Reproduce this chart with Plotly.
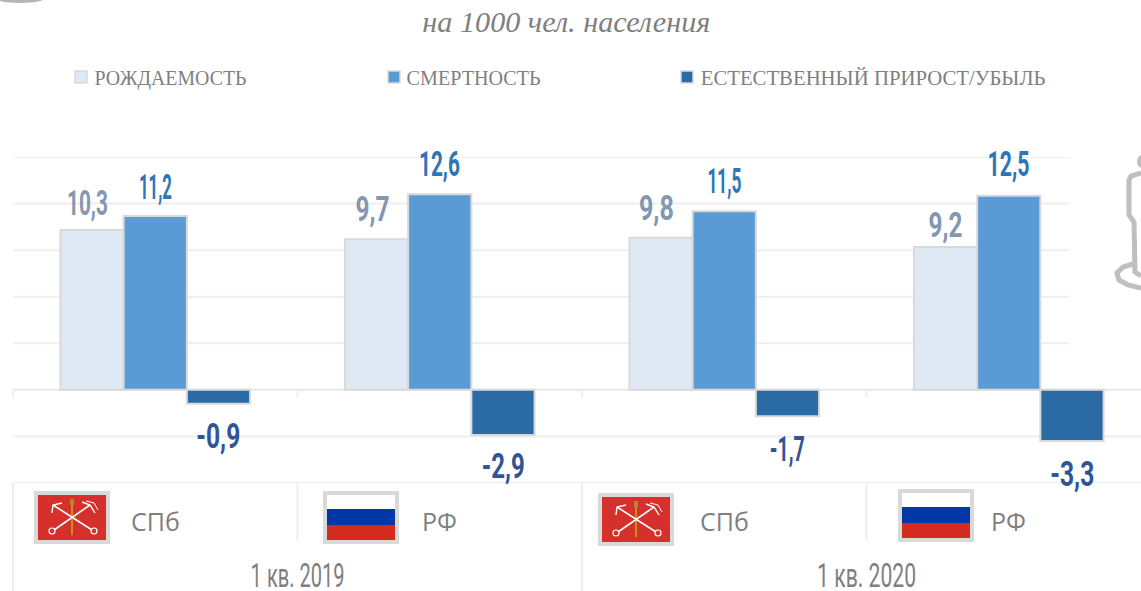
import json
import plotly.graph_objects as go

W, H = 1141, 591
places = ["СПб 2019", "РФ 2019", "СПб 2020", "РФ 2020"]
place_labels = ["СПб", "РФ", "СПб", "РФ"]
period_labels = ["1 кв. 2019", "1 кв. 2020"]
birth = [10.3, 9.7, 9.8, 9.2]
death = [11.2, 12.6, 11.5, 12.5]
natural = [-0.9, -2.9, -1.7, -3.3]
birth_text = ["10,3", "9,7", "9,8", "9,2"]
death_text = ["11,2", "12,6", "11,5", "12,5"]
natural_text = ["-0,9", "-2,9", "-1,7", "-3,3"]
grid_values = [15, 12, 9, 6, 3, -3, -6]
legend_names = ["РОЖДАЕМОСТЬ", "СМЕРТНОСТЬ", "ЕСТЕСТВЕННЫЙ ПРИРОСТ/УБЫЛЬ"]
subtitle = "на 1000 чел. населения"

C_BIRTH, C_DEATH, C_NAT = "#DEE9F5", "#5B9BD5", "#2A6BA6"
EDGE = "#D9D9D9"
GRID = "#EEEEEE"
NUM = "Roboto"
PLOT_L, PLOT_T, PLOT_R, PLOT_B = 13, 157, 1141, 483
LINE_END = 1069
STEP = 284.5

# rendered width of condensed / stretched texts
fit_widths = {
    "10,3": 41, "9,7": 34, "9,8": 35, "9,2": 34,
    "11,2": 33, "12,6": 41, "11,5": 34, "12,5": 42,
    "-0,9": 44, "-2,9": 43, "-1,7": 35, "-3,3": 44,
    "1 кв. 2019": 94, "1 кв. 2020": 99,
    legend_names[0]: 152, legend_names[1]: 134, legend_names[2]: 345,
    subtitle: 288,
}


def px(x):
    return (x - PLOT_L) / (PLOT_R - PLOT_L)


def py(y):
    return (PLOT_B - y) / (PLOT_B - PLOT_T)


fig = go.Figure()
for vals, color, name in zip((birth, death, natural), (C_BIRTH, C_DEATH, C_NAT), legend_names):
    fig.add_bar(x=places, y=vals, name=name, marker=dict(color=color, line=dict(color=EDGE, width=2)),
                showlegend=False, hoverinfo="skip")

shapes = []
annos = []


def line(x0, y0, x1, y1, color=GRID, w=2):
    shapes.append(dict(type="line", xref="paper", yref="paper", x0=px(x0), x1=px(x1), y0=py(y0), y1=py(y1),
                       line=dict(color=color, width=w), layer="below"))


for g in grid_values:
    shapes.append(dict(type="line", xref="paper", yref="y", x0=0, x1=px(LINE_END) if g > 0 else 1, y0=g, y1=g,
                       line=dict(color=GRID, width=2), layer="below"))
shapes.append(dict(type="line", xref="paper", yref="y", x0=0, x1=1, y0=0, y1=0,
                   line=dict(color="#E8E8E8", width=2), layer="below"))

for i in range(4):
    x = PLOT_L + i * STEP
    line(x, 390, x, 398)
    line(x, 483, x, 540)
line(13, 540, 13, 591)
line(582, 540, 582, 591)


def box(x0, y0, x1, y1, fill, lw=0, lc=None, layer="above"):
    shapes.append(dict(type="rect", xref="paper", yref="paper", x0=px(x0), x1=px(x1), y0=py(y0), y1=py(y1),
                       fillcolor=fill, line=dict(width=lw, color=lc or fill), layer=layer))


def path(pts, color, w):
    d = "M" + " L".join(f"{px(a):.5f},{py(b):.5f}" for a, b in pts)
    shapes.append(dict(type="path", xref="paper", yref="paper", path=d, line=dict(color=color, width=w), layer="above"))


def ring(x, y, r, color, w):
    shapes.append(dict(type="circle", xref="paper", yref="paper", x0=px(x - r), x1=px(x + r), y0=py(y - r), y1=py(y + r),
                       line=dict(color=color, width=w), layer="above"))


def spb_flag(x0, y0):
    box(x0, y0, x0 + 76, y0 + 53, "#D9D9D9")
    box(x0 + 4, y0 + 4, x0 + 72, y0 + 49, "#D5302C")
    path([(x0 + 38, y0 + 12), (x0 + 38, y0 + 44)], "#C9901E", 2)
    box(x0 + 36, y0 + 8, x0 + 40, y0 + 14, "#B8862A")
    wh = "#FFFFFF"
    path([(x0 + 19, y0 + 14), (x0 + 58, y0 + 39)], wh, 1.6)
    path([(x0 + 56, y0 + 14), (x0 + 20, y0 + 39)], wh, 1.6)
    ring(x0 + 18, y0 + 40, 3, wh, 1.2)
    ring(x0 + 60, y0 + 40, 3, wh, 1.2)
    path([(x0 + 18, y0 + 22), (x0 + 19, y0 + 14), (x0 + 28, y0 + 12)], wh, 1.4)
    path([(x0 + 48, y0 + 11), (x0 + 56, y0 + 14), (x0 + 61, y0 + 22)], wh, 1.4)
    path([(x0 + 52, y0 + 10), (x0 + 60, y0 + 12), (x0 + 64, y0 + 19)], wh, 1)


def ru_flag(x0, y0):
    box(x0, y0, x0 + 76, y0 + 53, "#D9D9D9")
    box(x0 + 4, y0 + 4, x0 + 72, y0 + 18, "#FFFFFF")
    box(x0 + 4, y0 + 18, x0 + 72, y0 + 34, "#0039A6")
    box(x0 + 4, y0 + 34, x0 + 72, y0 + 49, "#D52B1E")


spb_flag(34, 491)
ru_flag(323, 491)
spb_flag(598, 493)
ru_flag(898, 489)

# legend
for sx, tx, color, name in zip((75, 388, 681), (170, 473, 872.5), (C_BIRTH, C_DEATH, C_NAT), legend_names):
    box(sx, 71, sx + 12, 83, color, 1.5, EDGE)
    annos.append(dict(xref="paper", yref="paper", x=px(tx), y=py(78), text=name, showarrow=False,
                      xanchor="center", yanchor="middle",
                      font=dict(family="Liberation Serif", size=20, color="#7F7F7F")))

annos.append(dict(xref="paper", yref="paper", x=px(566), y=py(22), text=f"<i>{subtitle}</i>", showarrow=False,
                  xanchor="center", yanchor="middle", font=dict(family="Liberation Serif", size=29, color="#7F7F7F")))

# data labels
offs = (-63.3, 0, 63.3)
up_shift = ([26, 30, 29, 22], [28, 30, 30, 31], [33, 32, 33, 33])
side_shift = ([-4, -4, -4, 0], [0, 0, 0, 0], [0, 0, 0, 0])
for k, (vals, texts, color) in enumerate(((birth, birth_text, "#8497B0"), (death, death_text, "#2E75B6"),
                                          (natural, natural_text, "#2F5597"))):
    for i, (v, t) in enumerate(zip(vals, texts)):
        annos.append(dict(x=places[i], y=v, xref="x", yref="y", text=f"<b>{t}</b>", showarrow=False,
                          xanchor="center", xshift=offs[k] + side_shift[k][i],
                          yshift=up_shift[k][i] if v > 0 else -up_shift[k][i],
                          yanchor="middle", font=dict(family=NUM, size=35, color=color)))

# category labels
for i, t in enumerate(place_labels):
    annos.append(dict(xref="x", x=places[i], yref="paper", y=py(521), text=t, showarrow=False,
                      xanchor="center", yanchor="middle",
                      font=dict(family="Open Sans", size=25, color="#7F7F7F")))
for x, t in zip((297, 866), period_labels):
    annos.append(dict(xref="paper", yref="paper", x=px(x), y=py(575), text=t, showarrow=False,
                      xanchor="center", yanchor="middle",
                      font=dict(family=NUM, size=34, color="#7F7F7F")))

# decoration: person icon and top-left smudge
path([(1141, 173), (1131, 176), (1129, 180), (1129, 215), (1134, 222), (1135, 272), (1141, 276)], "#BFBFBF", 5)
path([(1133, 264), (1123, 267), (1117, 273), (1119, 280), (1128, 285), (1141, 288)], "#BFBFBF", 5)
shapes.append(dict(type="circle", xref="paper", yref="paper", x0=px(1137), x1=px(1147), y0=py(155), y1=py(168),
                   fillcolor="#BFBFBF", line=dict(width=0), layer="above"))
shapes.append(dict(type="circle", xref="paper", yref="paper", x0=px(-6), x1=px(46), y0=py(-8), y1=py(3),
                   fillcolor="#B5B5B5", line=dict(width=0), layer="above"))

fig.update_layout(
    width=W, height=H, margin=dict(l=PLOT_L, r=0, t=PLOT_T, b=H - PLOT_B),
    paper_bgcolor="white", plot_bgcolor="white", barmode="group", bargap=1 / 3, bargroupgap=0,
    shapes=shapes, annotations=annos, showlegend=False,
    xaxis=dict(type="category", range=[-0.5, -0.5 + (PLOT_R - PLOT_L) / STEP], showticklabels=False, showgrid=False,
               zeroline=False, ticks="", categoryorder="array", categoryarray=places),
    yaxis=dict(range=[-6, 15], showticklabels=False, showgrid=False, zeroline=False, ticks=""),
)

post = """
document.documentElement.style.overflow='hidden';
document.body.style.margin='0';
var widths = %s;
document.getElementById('{plot_id}').querySelectorAll('text.annotation-text').forEach(function(t){
  var w = widths[t.textContent];
  if(!w) return;
  var x = parseFloat(t.getAttribute('x')) || 0;
  var f = w / t.getComputedTextLength();
  t.setAttribute('transform','translate('+x+',0) scale('+f+',1) translate('+(-x)+',0)');
});
""" % json.dumps(fit_widths, ensure_ascii=False)
fig.write_html("out.html", config=dict(displayModeBar=False), post_script=post)
